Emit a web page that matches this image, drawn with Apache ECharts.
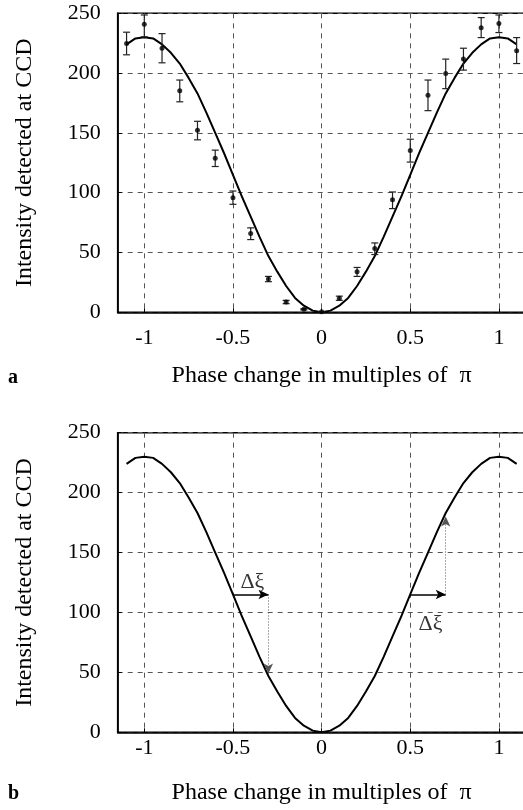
<!DOCTYPE html>
<html>
<head>
<meta charset="utf-8">
<script src="https://cdn.jsdelivr.net/npm/echarts@6/dist/echarts.min.js"></script>
<style>
html,body{margin:0;padding:0;background:#fff;}
#c{width:523px;height:810px;}
</style>
</head>
<body>
<div id="c"></div>
<script>
// ---- data ----
const xTicks = [-1, -0.5, 0, 0.5, 1];
const yTicks = [0, 50, 100, 150, 200, 250];

// fitted curve (same in both panels)
const curveX = [-1.1,-1.05,-1,-0.95,-0.9,-0.85,-0.8,-0.75,-0.7,-0.65,-0.6,-0.55,-0.5,-0.45,-0.4,-0.35,-0.3,-0.25,-0.2,-0.15,-0.1,-0.05,0,
                0.05,0.1,0.15,0.2,0.25,0.3,0.35,0.4,0.45,0.5,0.55,0.6,0.65,0.7,0.75,0.8,0.85,0.9,0.95,1,1.05,1.1];
const curveY = [224,229,230,229,224,217,208,196,183,167,150,133,115,97,80,63,47,34,22,12,5.5,1.4,0,
                1.4,5.5,12,22,34,47,63,80,97,115,133,150,167,183,196,208,217,224,229,230,229,224];

// measured points (panel a)
const ptX  = [-1.1,-1,-0.9,-0.8,-0.7,-0.6,-0.5,-0.4,-0.3,-0.2,-0.1,0,0.1,0.2,0.3,0.4,0.5,0.6,0.7,0.8,0.9,1,1.1];
const ptY  = [224.7,240.8,220.8,185.3,152.2,128.9,95.8,65.8,27.8,8.6,2.5,0.5,11.7,33.9,53.3,94.2,135.3,181.4,199.7,211.7,238,241.4,218.6];
const ptHi = [234.2,248.6,233,194.2,159.7,135.6,101.4,70.6,30,10,3,0.5,13.5,37.5,58,100.6,144.7,194.2,211.7,220.8,246.4,248.6,229.7];
const ptLo = [215.3,230.3,208.6,176,144.2,121.9,90.3,60.8,25.6,7.2,2,0.5,10,30,48.3,86.7,125.6,168.6,187,202.5,229.7,233.9,208];

// annotations (panel b): arrow start/end in data units
const shiftArrows = [[[-0.5,115],[-0.3,115]], [[0.5,115],[0.7,115]]];
const dropArrows  = [[[-0.3,115],[-0.3,49]], [[0.7,115],[0.7,180]]];
const deltaLabels = [[-0.39,125.5],[0.614,90.4]];

// ---- chart ----
const serif = '"Liberation Serif","DejaVu Serif",serif';
const curve = curveX.map((x,i)=>[x,curveY[i]]);
const pts = ptX.map((x,i)=>[x,ptY[i]]);
const bars = ptX.map((x,i)=>[x,ptLo[i],ptHi[i]]);

function xAxisCfg(gi, margin, nameGap){
  return {
    type:'value', gridIndex:gi, min:-1.15, max:1.15,
    axisLine:{show:true, onZero:false, lineStyle:{color:'#000', width:1.6}},
    axisTick:{show:true, inside:true, length:4, customValues:xTicks, lineStyle:{color:'#000'}},
    axisLabel:{customValues:xTicks, margin:margin, color:'#000', fontFamily:serif, fontSize:22},
    splitLine:{show:true, lineStyle:{color:'#555', type:[5,5], width:1}},
    name:'Phase change in multiples of  π', nameLocation:'middle', nameGap:nameGap,
    nameTextStyle:{color:'#000', fontFamily:serif, fontSize:24}
  };
}
function yAxisCfg(gi){
  return {
    type:'value', gridIndex:gi, min:0, max:250, interval:50,
    axisLine:{show:true, onZero:false, lineStyle:{color:'#000', width:1.6}},
    axisTick:{show:true, inside:true, length:4, lineStyle:{color:'#000'}},
    axisLabel:{margin:17, color:'#000', fontFamily:serif, fontSize:22},
    splitLine:{show:true, lineStyle:{color:'#555', type:[5,5], width:1}},
    name:'Intensity detected at CCD', nameLocation:'middle', nameGap:81,
    nameTextStyle:{color:'#000', fontFamily:serif, fontSize:24}
  };
}

const chart = echarts.init(document.getElementById('c'), null, {renderer:'canvas'});
chart.setOption({
  animation:false,
  backgroundColor:'#fff',
  grid:[
    {left:117.7, top:13.3, height:299, right:-2.5, show:true, borderColor:'#000', borderWidth:1.6, backgroundColor:'transparent', outerBoundsMode:'none'},
    {left:117.7, top:432.7, height:299.6, right:-2.5, show:true, borderColor:'#000', borderWidth:1.6, backgroundColor:'transparent', outerBoundsMode:'none'}
  ],
  xAxis:[xAxisCfg(0, 15, 51), xAxisCfg(1, 5, 48)],
  yAxis:[yAxisCfg(0), yAxisCfg(1)],
  graphic:[
    {type:'text', left:8, top:368, style:{text:'a', font:'bold 20px '+serif, fill:'#000'}},
    {type:'text', left:8, top:784, style:{text:'b', font:'bold 20px '+serif, fill:'#000'}}
  ],
  series:[
    {type:'line', xAxisIndex:0, yAxisIndex:0, data:curve, smooth:false, showSymbol:false,
     lineStyle:{color:'#000', width:2, join:'round'}, z:3},
    {type:'custom', xAxisIndex:0, yAxisIndex:0, data:bars, z:4,
     renderItem:function(params, api){
       const x = api.value(0);
       const pLo = api.coord([x, api.value(1)]);
       const pHi = api.coord([x, api.value(2)]);
       const w = 3.5;
       const st = {stroke:'#222', lineWidth:1.2};
       return {type:'group', children:[
         {type:'line', shape:{x1:pHi[0],y1:pHi[1],x2:pLo[0],y2:pLo[1]}, style:st},
         {type:'line', shape:{x1:pHi[0]-w,y1:pHi[1],x2:pHi[0]+w,y2:pHi[1]}, style:st},
         {type:'line', shape:{x1:pLo[0]-w,y1:pLo[1],x2:pLo[0]+w,y2:pLo[1]}, style:st}
       ]};
     }},
    {type:'scatter', xAxisIndex:0, yAxisIndex:0, data:pts, symbol:'circle', symbolSize:5,
     itemStyle:{color:'#000'}, z:5},
    {type:'line', xAxisIndex:1, yAxisIndex:1, data:curve, smooth:false, showSymbol:false,
     lineStyle:{color:'#000', width:2, join:'round'}, z:3,
     markLine:{
       silent:true, symbol:['none','arrow'], symbolSize:[7,10], label:{show:false},
       data: shiftArrows.map(a=>[{coord:a[0], lineStyle:{color:'#000', width:1.6, type:'solid'}},{coord:a[1]}])
         .concat(dropArrows.map(a=>[{coord:a[0], lineStyle:{color:'#555', width:1, type:[1,2]}},{coord:a[1]}]))
     }},
    {type:'scatter', xAxisIndex:1, yAxisIndex:1, data:deltaLabels, symbolSize:0, z:6,
     label:{show:true, position:'inside', formatter:'Δξ', color:'#000', fontFamily:serif, fontSize:22}}
  ]
});
</script>
</body>
</html>
